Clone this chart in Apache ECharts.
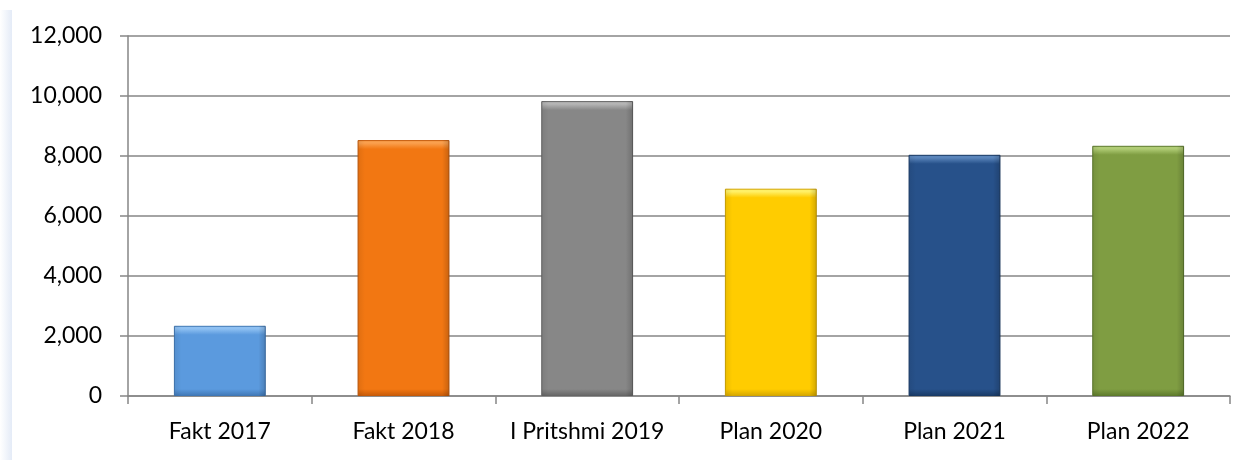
<!DOCTYPE html>
<html>
<head>
<meta charset="utf-8">
<script src="https://cdn.jsdelivr.net/npm/echarts@6/dist/echarts.min.js"></script>
<style>
html,body{margin:0;padding:0;background:#fff;}
#c{width:1249px;height:460px;}
</style>
</head>
<body>
<div id="c"></div>
<script>
const categories = ['Fakt 2017', 'Fakt 2018', 'I Pritshmi 2019', 'Plan 2020', 'Plan 2021', 'Plan 2022'];
const values = [2340, 8530, 9830, 6910, 8040, 8340];
const baseColors = ['#5b9ade', '#f27712', '#878787', '#ffcc00', '#27518a', '#7f9d42'];
const lightColors = ['#8ec0f2', '#faa04e', '#b5b5b5', '#fff066', '#5a85bb', '#b0cc75'];
const darkColors = ['#3f77b5', '#c65a08', '#656565', '#d4a600', '#183a66', '#5d7a2c'];
const yMin = 0, yMax = 12000, yStep = 2000;

const chart = echarts.init(document.getElementById('c'));
const font = 'Lato, "Liberation Sans", sans-serif';
const plotH = 360;

const mainData = values.map((v, i) => {
  const h = v / (yMax - yMin) * plotH;
  const a = 3 / h, b = 9 / h, c = 1 - 7 / h;
  return {
    value: v,
    itemStyle: {
      color: new echarts.graphic.LinearGradient(0, 0, 0, 1, [
        {offset: 0, color: lightColors[i]},
        {offset: a, color: lightColors[i]},
        {offset: b, color: baseColors[i]},
        {offset: c, color: baseColors[i]},
        {offset: 1, color: darkColors[i]}
      ]),
      borderColor: darkColors[i],
      borderWidth: 1
    }
  };
});
const sideData = values.map((v, i) => ({
  value: v,
  itemStyle: {
    color: new echarts.graphic.LinearGradient(0, 0, 1, 0, [
      {offset: 0, color: 'rgba(0,0,0,0.08)'},
      {offset: 0.08, color: 'rgba(0,0,0,0)'},
      {offset: 0.92, color: 'rgba(0,0,0,0)'},
      {offset: 1, color: 'rgba(0,0,0,0.18)'}
    ])
  }
}));

chart.setOption({
  animation: false,
  backgroundColor: '#ffffff',
  graphic: [{
    type: 'rect',
    shape: {x: 0, y: 10, width: 12, height: 450},
    style: {fill: new echarts.graphic.LinearGradient(0, 0, 1, 0, [
      {offset: 0, color: '#ffffff'},
      {offset: 1, color: '#e4ebf7'}
    ])},
    silent: true
  }],
  grid: {left: 128, right: 19, top: 36, bottom: 64, containLabel: false},
  xAxis: {
    type: 'category',
    data: categories,
    axisLine: {lineStyle: {color: '#868686', width: 1.5}},
    axisTick: {show: true, length: 8, interval: 0, alignWithLabel: false, lineStyle: {color: '#868686', width: 1.5}},
    axisLabel: {color: '#000', fontSize: 23, fontFamily: font, margin: 24, interval: 0}
  },
  yAxis: {
    type: 'value',
    min: yMin, max: yMax, interval: yStep,
    axisLine: {show: true, lineStyle: {color: '#868686', width: 1.5}},
    axisTick: {show: true, length: 8, lineStyle: {color: '#868686', width: 1.5}},
    splitLine: {lineStyle: {color: '#868686', width: 1.5}},
    axisLabel: {
      color: '#000', fontSize: 23, fontFamily: font, margin: 26,
      formatter: v => v.toLocaleString('en-US')
    }
  },
  series: [
    {type: 'bar', data: mainData, barWidth: '50%', z: 2},
    {type: 'bar', data: sideData, barWidth: '50%', barGap: '-100%', z: 3, silent: true}
  ]
});
</script>
</body>
</html>
